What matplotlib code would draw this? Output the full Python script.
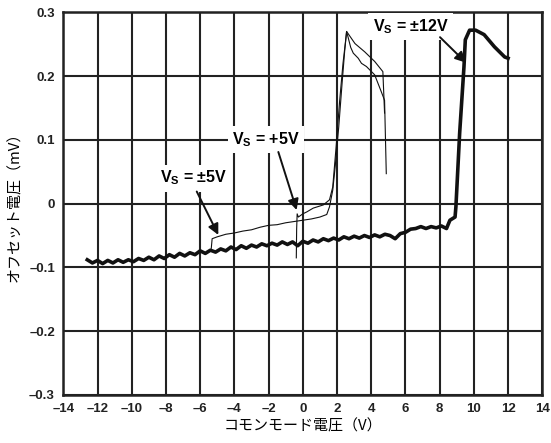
import matplotlib
matplotlib.use("Agg")
import matplotlib.pyplot as plt

plt.rcParams['font.family'] = ['Liberation Sans', 'Noto Sans CJK JP', 'DejaVu Sans']
plt.rcParams['mathtext.fontset'] = 'custom'
plt.rcParams['mathtext.rm'] = 'Liberation Sans:bold'
plt.rcParams['mathtext.it'] = 'Liberation Sans:bold'
plt.rcParams['mathtext.bf'] = 'Liberation Sans:bold'

# Vs = ±12V (thick)
x12 = [-12.6, -12.3, -12.0, -11.7, -11.4, -11.1, -10.8, -10.5, -10.2, -9.9,
       -9.6, -9.3, -9.0, -8.7, -8.4, -8.1, -7.8, -7.5, -7.2, -6.9,
       -6.6, -6.3, -6.0, -5.7, -5.4, -5.1, -4.8, -4.5, -4.2, -3.9,
       -3.6, -3.3, -3.0, -2.7, -2.4, -2.1, -1.8, -1.5, -1.2, -0.9,
       -0.6, -0.3, 0.0, 0.3, 0.6, 0.9, 1.2, 1.5, 1.8, 2.1,
       2.4, 2.7, 3.0, 3.3, 3.6, 3.9, 4.2, 4.5, 4.8, 5.1,
       5.4, 5.7, 6.0, 6.3, 6.6, 6.9, 7.2, 7.5, 7.8, 8.1,
       8.4, 8.6, 8.9, 8.95, 9.17, 9.42, 9.5, 9.75, 10.1, 10.6,
       11.2, 11.8, 12.0]
y12 = [-0.088, -0.093, -0.089, -0.094, -0.089, -0.093, -0.088, -0.092, -0.088, -0.091,
       -0.086, -0.089, -0.084, -0.088, -0.082, -0.086, -0.080, -0.084, -0.078, -0.082,
       -0.077, -0.080, -0.074, -0.078, -0.073, -0.076, -0.071, -0.074, -0.068, -0.072,
       -0.066, -0.070, -0.065, -0.068, -0.063, -0.066, -0.062, -0.065, -0.060, -0.064,
       -0.060, -0.066, -0.059, -0.062, -0.057, -0.060, -0.055, -0.058, -0.054, -0.057,
       -0.052, -0.055, -0.051, -0.054, -0.050, -0.053, -0.049, -0.052, -0.048, -0.050,
       -0.055, -0.047, -0.045, -0.040, -0.039, -0.036, -0.039, -0.036, -0.038, -0.035,
       -0.039, -0.026, -0.021, -0.005, 0.111, 0.214, 0.257, 0.272, 0.272, 0.265,
       0.246, 0.230, 0.228]

# Vs = ±5V (thin)
x5b = [-5.35, -5.3, -5.0, -4.5, -4.0, -3.5, -3.0, -2.5, -2.0, -1.5,
       -1.0, -0.5, 0.0, 0.5, 1.0, 1.4, 1.56, 1.75, 1.9, 2.1,
       2.3, 2.45, 2.56, 2.8, 2.95, 3.24, 3.43, 3.72, 4.2, 4.58,
       4.78, 4.88]
y5b = [-0.070, -0.055, -0.052, -0.048, -0.046, -0.043, -0.041, -0.037, -0.034, -0.033,
       -0.030, -0.028, -0.026, -0.024, -0.021, -0.017, -0.005, 0.021, 0.060, 0.120,
       0.190, 0.240, 0.270, 0.245, 0.236, 0.228, 0.220, 0.215, 0.202, 0.176,
       0.162, 0.047]

# Vs = +5V (thin)
x5u = [-0.38, -0.36, -0.33, -0.26, 0.0, 0.23, 0.61, 1.2, 1.56, 1.75,
       1.95, 2.15, 2.35, 2.5, 2.56, 3.05, 3.62, 4.2, 4.68, 4.78]
y5u = [-0.085, -0.040, -0.016, -0.021, -0.016, -0.013, -0.007, -0.002, 0.006, 0.026,
       0.090, 0.160, 0.220, 0.255, 0.270, 0.251, 0.238, 0.223, 0.207, 0.142]

xticks = list(range(-14, 15, 2))
yticks = [-0.3, -0.2, -0.1, 0.0, 0.1, 0.2, 0.3]


def fmt(v):
    s = f"{abs(v):g}"
    return "0" if v == 0 else ("\u2013" + s if v < 0 else s)


fig = plt.figure(figsize=(5.51, 4.43), dpi=100)
ax = fig.add_axes([0.1149, 0.1084, 0.8693, 0.8638])

ax.plot(x12, y12, color='#111111', lw=2.6, zorder=3)
ax.plot(x5b, y5b, color='#111111', lw=0.8, zorder=3)
ax.plot(x5u, y5u, color='#111111', lw=0.8, zorder=3)

ax.set_xlim(-14, 14)
ax.set_ylim(-0.3, 0.3)
ax.set_xticks(xticks)
ax.set_yticks(yticks)
ax.set_xticklabels([fmt(v) for v in xticks], fontsize=9.5, fontweight='bold')
ax.set_yticklabels([fmt(round(v, 1)) for v in yticks], fontsize=9.5, fontweight='bold')
ax.tick_params(length=0, pad=6, colors='#222222')
ax.grid(True, color='#222222', lw=1.5, zorder=1)
ax.set_axisbelow(True)
for s in ax.spines.values():
    s.set_linewidth(1.8)
    s.set_color('#222222')

ax.set_xlabel('コモンモード電圧（V）', family=['Noto Sans CJK JP'], fontsize=10.8, labelpad=3)
ax.set_ylabel('オフセット電圧（mV）', family=['Noto Sans CJK JP'], fontsize=10.8, labelpad=5)

box = dict(facecolor='white', edgecolor='none', pad=3)
arrow = dict(arrowstyle='-|>', color='#111111', lw=1.4, mutation_scale=16, shrinkA=0, shrinkB=0)
ax.text(6.3, 0.277, r'$V_S$ = ±12V', fontsize=11.5, fontweight='bold', ha='center', va='center', bbox=box, zorder=4)
ax.annotate('', xy=(9.54, 0.221), xytext=(8.02, 0.261), arrowprops=arrow, zorder=5)
ax.text(-2.15, 0.100, r'$V_S$ = +5V', fontsize=11.5, fontweight='bold', ha='center', va='center', bbox=box, zorder=4)
ax.annotate('', xy=(-0.36, -0.010), xytext=(-1.43, 0.081), arrowprops=arrow, zorder=5)
ax.text(-6.4, 0.040, r'$V_S$ = ±5V', fontsize=11.5, fontweight='bold', ha='center', va='center', bbox=box, zorder=4)
ax.annotate('', xy=(-4.94, -0.049), xytext=(-6.2, 0.019), arrowprops=arrow, zorder=5)

fig.savefig('out.png', dpi=100)
